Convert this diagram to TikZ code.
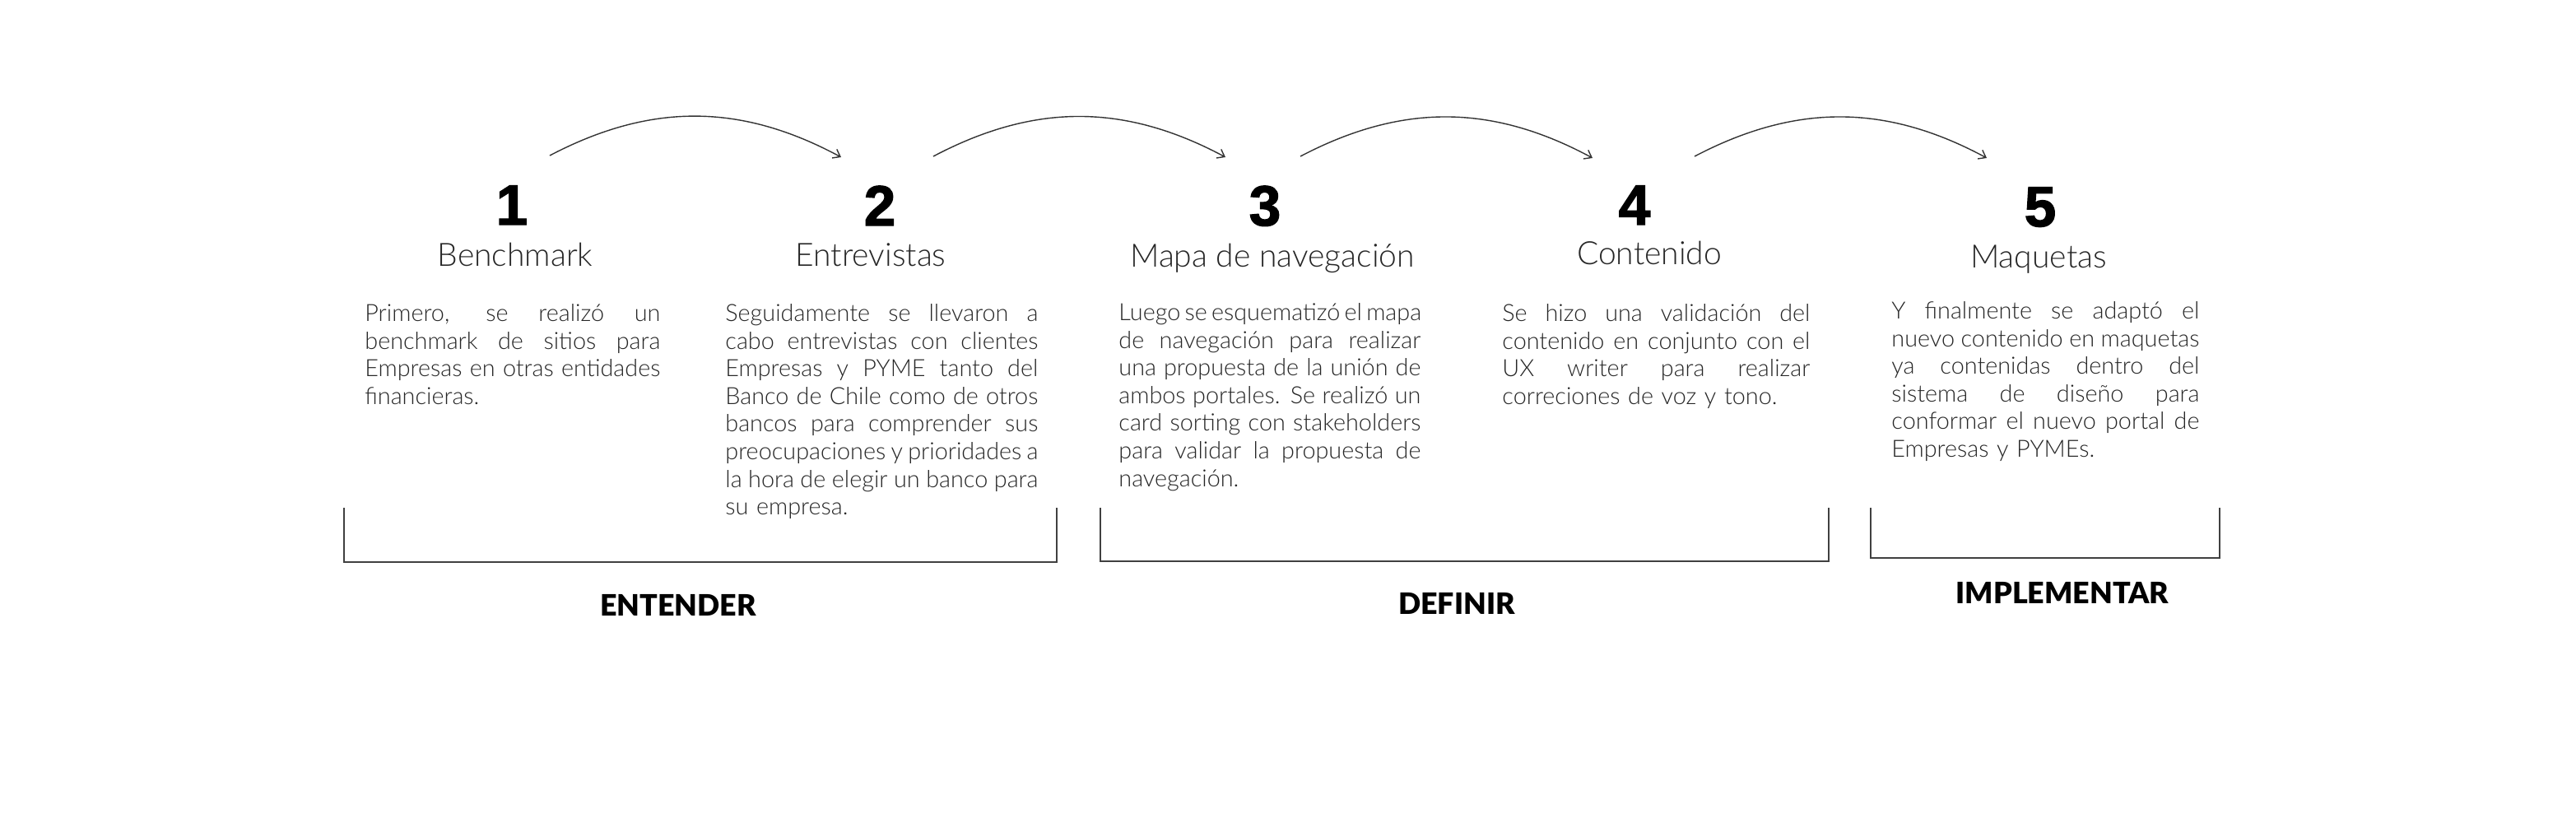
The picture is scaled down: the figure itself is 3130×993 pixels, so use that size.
\documentclass[tikz,border=0pt]{standalone}
\usepackage{fontspec}
\usetikzlibrary{arrows.meta}
\newfontfamily\lightf{Lato Light}
\newfontfamily\blackf{Lato Black}
\newfontfamily\numf{Liberation Sans}[BoldFeatures={FakeBold=2}]
\setlength\parindent{0pt}
\newcommand\jl[1]{{\spaceskip=0pt\xspaceskip=0pt\makebox[\hsize][s]{#1}}}
\newcommand\fl{\rule{0pt}{14pt}}
\begin{document}
\begin{tikzpicture}[x=0.5pt,y=-0.5pt,
  num/.style={font=\numf\bfseries\fontsize{34.5pt}{36pt}\selectfont, anchor=base, inner sep=0pt, text=black},
  ttl/.style={font=\lightf\fontsize{19.5pt}{22pt}\selectfont, anchor=base, inner sep=0pt, text=black!85},
  body/.style={font=\lightf\fontsize{14.4pt}{16.8pt}\selectfont, anchor=north west, inner sep=0pt, align=left, text=black!85},
  phase/.style={font=\blackf\fontsize{17.9pt}{20pt}\selectfont, anchor=base, inner sep=0pt, text=black},
  arc/.style={draw=black!80, line width=0.7pt, -{Straight Barb[length=4pt,width=6pt]}, bend left=28},
  brk/.style={draw=black!75, line width=0.9pt}]
\useasboundingbox (0,0) rectangle (3130,993);

% numbers
\node[num] (n1) at (622,273) {1};
\node[num] (n2) at (1069,274) {2};
\node[num] (n3) at (1537,274) {3};
\node[num] (n4) at (1986,273) {4};
\node[num] (n5) at (2479,275) {5};

% titles
\node[ttl] (t1) at (626,323) {Benchmark};
\node[ttl] (t2) at (1058,323) {Entrevistas};
\node[ttl] (t3) at (1546,324) {Mapa de navegación};
\node[ttl] (t4) at (2004,321) {Contenido};
\node[ttl] (t5) at (2477,325) {Maquetas};

% arcs
\coordinate (a1s) at (668,189);
\coordinate (a1e) at (1022,191);
\coordinate (a2s) at (1134,190);
\coordinate (a2e) at (1489,191);
\coordinate (a3s) at (1580,190);
\coordinate (a3e) at (1935,192);
\coordinate (a4s) at (2059,190);
\coordinate (a4e) at (2414,192);
\draw[arc] (a1s) to (a1e);
\draw[arc] (a2s) to (a2e);
\draw[arc] (a3s) to (a3e);
\draw[arc] (a4s) to (a4e);

% body texts
\node[body, text width=179.5pt] (b1) at (443,362) {\fl\jl{Primero, se realizó un}\\
\jl{benchmark de sitios para}\\
\jl{Empresas en otras entidades}\\
financieras.};

\node[body, text width=190pt] (b2) at (881,362) {\fl\jl{Seguidamente se llevaron a}\\
\jl{cabo entrevistas con clientes}\\
\jl{Empresas y PYME tanto del}\\
\jl{Banco de Chile como de otros}\\
\jl{bancos para comprender sus}\\
\jl{preocupaciones y prioridades a}\\
\jl{la hora de elegir un banco para}\\
su empresa.};

\node[body, text width=183.5pt] (b3) at (1359,361) {\fl\jl{Luego se esquematizó el mapa}\\
\jl{de navegación para realizar}\\
\jl{una propuesta de la unión de}\\
\jl{ambos portales. Se realizó un}\\
\jl{card sorting con stakeholders}\\
\jl{para validar la propuesta de}\\
navegación.};

\node[body, text width=187pt] (b4) at (1825,362) {\fl\jl{Se hizo una validación del}\\
\jl{contenido en conjunto con el}\\
\jl{UX writer para realizar}\\
correciones de voz y tono.};

\node[body, text width=187pt] (b5) at (2298,359) {\fl\jl{Y finalmente se adaptó el}\\
\jl{nuevo contenido en maquetas}\\
\jl{ya contenidas dentro del}\\
\jl{sistema de diseño para}\\
\jl{conformar el nuevo portal de}\\
Empresas y PYMEs.};

% brackets
\coordinate (k1a) at (418,617); \coordinate (k1b) at (418,683);
\coordinate (k1c) at (1284,683); \coordinate (k1d) at (1284,617);
\coordinate (k2a) at (1337,617); \coordinate (k2b) at (1337,682);
\coordinate (k2c) at (2222,682); \coordinate (k2d) at (2222,617);
\coordinate (k3a) at (2273,617); \coordinate (k3b) at (2273,678);
\coordinate (k3c) at (2697,678); \coordinate (k3d) at (2697,617);
\draw[brk] (k1a) -- (k1b) -- (k1c) -- (k1d);
\draw[brk] (k2a) -- (k2b) -- (k2c) -- (k2d);
\draw[brk] (k3a) -- (k3b) -- (k3c) -- (k3d);

% phase labels
\node[phase] (p1) at (824,748) {ENTENDER};
\node[phase] (p2) at (1770,746) {DEFINIR};
\node[phase] (p3) at (2506,733) {IMPLEMENTAR};
\end{tikzpicture}
\end{document}
